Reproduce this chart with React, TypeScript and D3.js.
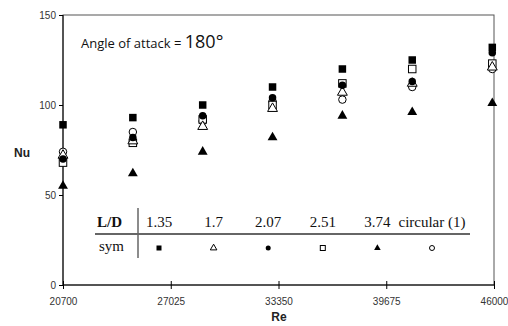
import { useEffect, useRef } from "react"
import * as d3 from "d3"

const re = [20700, 24800, 28900, 33000, 37100, 41200, 45900]
const ld135 = [89, 93, 100, 110, 120, 125, 132]
const ld17 = [72, 80, 88, 98, 107, 112, 121]
const ld207 = [70, 82, 94, 104, 111, 113, 129]
const ld251 = [68, 79, 92, 100, 112, 120, 123]
const ld374 = [55, 62, 74, 82, 94, 96, 101]
const circ = [74, 85, 91, 102, 103, 110, 120]

const xTicks = [20700, 27025, 33350, 39675, 46000]
const yTicks = [0, 50, 100, 150]
const legendLabels = ["1.35", "1.7", "2.07", "2.51", "3.74", "circular (1)"]

type Sym = "sq" | "osq" | "dot" | "odot" | "tri" | "otri"

const series: { values: number[]; sym: Sym }[] = [
  { values: ld374, sym: "tri" },
  { values: circ, sym: "odot" },
  { values: ld251, sym: "osq" },
  { values: ld17, sym: "otri" },
  { values: ld207, sym: "dot" },
  { values: ld135, sym: "sq" },
]
const legendSyms: Sym[] = ["sq", "otri", "dot", "osq", "tri", "odot"]

function drawSym(g: any, sym: Sym, cx: number, cy: number, s: number) {
  const filled = sym === "sq" || sym === "dot" || sym === "tri"
  const fill = filled ? "#000" : "#fff"
  if (sym === "sq" || sym === "osq") {
    g.append("rect").attr("x", cx - s / 2).attr("y", cy - s / 2).attr("width", s).attr("height", s)
      .attr("fill", fill).attr("stroke", "#000").attr("stroke-width", filled ? 0 : 1)
  } else if (sym === "dot" || sym === "odot") {
    g.append("circle").attr("cx", cx).attr("cy", cy).attr("r", s / 2)
      .attr("fill", fill).attr("stroke", "#000").attr("stroke-width", filled ? 0 : 1)
  } else {
    const tri = d3.symbol(d3.symbolTriangle, s * s * 0.75)()
    g.append("path").attr("d", tri).attr("transform", `translate(${cx},${cy})`)
      .attr("fill", fill).attr("stroke", "#000").attr("stroke-width", filled ? 0 : 1)
  }
}

export default function App() {
  const ref = useRef<SVGSVGElement | null>(null)

  useEffect(() => {
    const svg = d3.select(ref.current)
    svg.selectAll("*").remove()

    const left = 63, right = 494, top = 15, bottom = 285
    const x = d3.scaleLinear().domain([20700, 46000]).range([left, right])
    const y = d3.scaleLinear().domain([0, 150]).range([bottom, top])
    const font = "'Liberation Sans', Arial, sans-serif"

    // frame
    svg.append("rect").attr("x", left).attr("y", top).attr("width", right - left).attr("height", bottom - top)
      .attr("fill", "none").attr("stroke", "#555").attr("stroke-width", 1)
    svg.append("line").attr("x1", left).attr("x2", left).attr("y1", top).attr("y2", bottom).attr("stroke", "#000")
    svg.append("line").attr("x1", left).attr("x2", right).attr("y1", bottom).attr("y2", bottom).attr("stroke", "#000")

    const yAxis = svg.append("g").attr("transform", `translate(${left},0)`)
      .call(d3.axisLeft(y).tickValues(yTicks).tickSize(4).tickSizeOuter(0))
    yAxis.select(".domain").remove()
    yAxis.selectAll("text").attr("font-family", font).attr("font-size", 10).attr("fill", "#333")

    const xAxis = svg.append("g").attr("transform", `translate(0,${bottom})`)
      .call(d3.axisBottom(x).tickValues(xTicks).tickFormat(d3.format("d")).tickSize(4).tickSizeOuter(0))
    xAxis.select(".domain").remove()
    xAxis.selectAll("line").attr("y1", -4)
    xAxis.selectAll("text").attr("font-family", font).attr("font-size", 10).attr("fill", "#333").attr("dy", "1.3em")

    svg.append("text").attr("x", 14).attr("y", 157).attr("font-family", font).attr("font-weight", "bold")
      .attr("font-size", 12).attr("fill", "#222").text("Nu")
    svg.append("text").attr("x", 279).attr("y", 321).attr("text-anchor", "middle").attr("font-family", font)
      .attr("font-weight", "bold").attr("font-size", 12).attr("fill", "#222").text("Re")

    const title = svg.append("text").attr("x", 81).attr("y", 48).attr("font-family", "'Open Sans', Carlito, sans-serif")
      .attr("fill", "#111")
    title.append("tspan").attr("font-size", 13).text("Angle of attack = ")
    title.append("tspan").attr("font-size", 18).text("180°")

    // markers
    const pts = svg.append("g")
    series.forEach(s => {
      s.values.forEach((v, i) => drawSym(pts, s.sym, x(re[i]), y(v), 7.5))
    })

    // legend table
    const lg = svg.append("g")
    const cols = d3.scalePoint<string>().domain(legendLabels).range([159, 432])
    const serif = "'Liberation Serif', 'Times New Roman', serif"
    lg.append("line").attr("x1", 95).attr("x2", 470).attr("y1", 234).attr("y2", 234).attr("stroke", "#666").attr("stroke-width", 2)
    lg.append("line").attr("x1", 138).attr("x2", 138).attr("y1", 208).attr("y2", 258).attr("stroke", "#666").attr("stroke-width", 1.5)
    lg.append("text").attr("x", 97).attr("y", 227).attr("font-family", serif).attr("font-weight", "bold")
      .attr("font-size", 15).attr("fill", "#111").text("L/D")
    lg.append("text").attr("x", 99).attr("y", 251).attr("font-family", serif)
      .attr("font-size", 15).attr("fill", "#111").text("sym")
    legendLabels.forEach((l, i) => {
      lg.append("text").attr("x", cols(l)!).attr("y", 227).attr("text-anchor", "middle").attr("font-family", serif)
        .attr("font-size", 15).attr("fill", "#111").text(l)
      drawSym(lg, legendSyms[i], cols(l)!, 248, 5)
    })
  }, [])

  return <svg ref={ref} width={508} height={326} style={{ position: "absolute", left: 0, top: 0, background: "#fff" }} />
}
